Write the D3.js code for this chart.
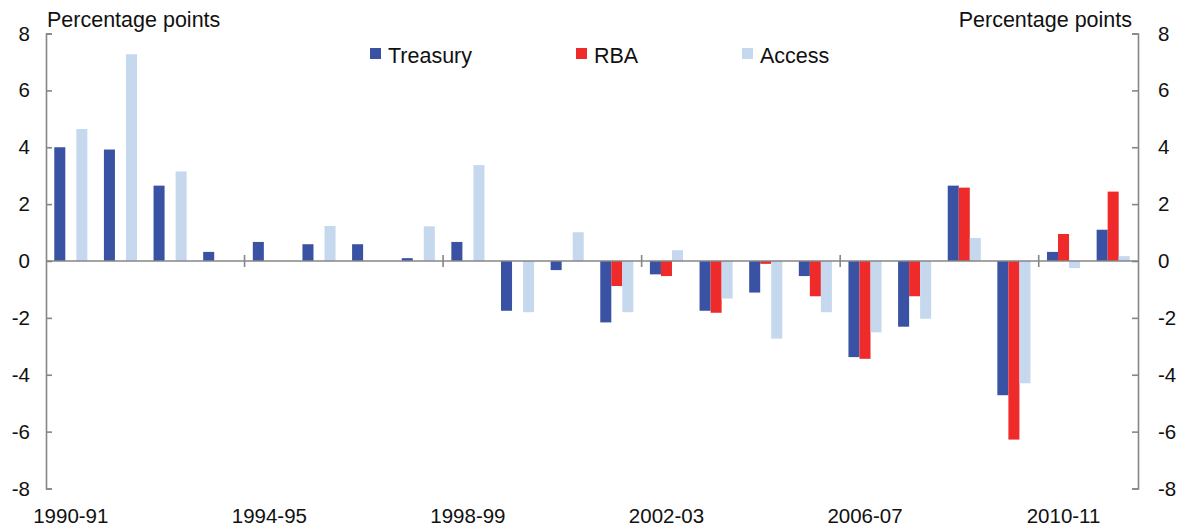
<!DOCTYPE html>
<html>
<head>
<meta charset="utf-8">
<script src="https://cdn.jsdelivr.net/npm/d3@7"></script>
<style>
  html, body { margin: 0; padding: 0; background: #fff; }
  svg { display: block; font-family: Arial, "Liberation Sans", sans-serif; }
</style>
</head>
<body>
<svg id="chart" width="1188" height="532"></svg>
<script>
const categories = ["1990-91","1991-92","1992-93","1993-94","1994-95","1995-96","1996-97","1997-98","1998-99","1999-00","2000-01","2001-02","2002-03","2003-04","2004-05","2005-06","2006-07","2007-08","2008-09","2009-10","2010-11","2011-12"];
const treasury = [4.0, 3.92, 2.65, 0.32, 0.67, 0.59, 0.59, 0.1, 0.67, -1.75, -0.32, -2.16, -0.47, -1.75, -1.11, -0.53, -3.38, -2.31, 2.65, -4.72, 0.32, 1.1];
const rba      = [null, null, null, null, null, null, null, null, null, null, null, -0.88, -0.53, -1.82, -0.1, -1.24, -3.44, -1.24, 2.58, -6.28, 0.95, 2.44];
const access   = [4.64, 7.27, 3.15, null, null, 1.23, null, 1.22, 3.37, -1.8, 1.01, -1.8, 0.38, -1.32, -2.73, -1.8, -2.51, -2.03, 0.81, -4.3, -0.25, 0.17];
const seriesNames = ["Treasury", "RBA", "Access"];
const yTicks = [-8, -6, -4, -2, 0, 2, 4, 6, 8];
const xLabels = ["1990-91","1994-95","1998-99","2002-03","2006-07","2010-11"];

const colors = { Treasury: "#3A52A3", RBA: "#EE2A2A", Access: "#C5D8EE" };
const series = [
  { name: "Treasury", values: treasury },
  { name: "RBA", values: rba },
  { name: "Access", values: access }
];

const svg = d3.select("#chart");
const mLeft = 46, mRight = 1138, mTop = 33.5, mBottom = 488.5;
const axisColor = "#868686";

const x = d3.scaleBand().domain(categories).range([mLeft, mRight]).paddingInner(0).paddingOuter(0);
const bw = x.bandwidth() / 4.5;
const xs = d3.scaleBand().domain(seriesNames).range([0.75 * bw, 3.75 * bw]);
const y = d3.scaleLinear().domain([-8, 8]).range([mBottom, mTop]);

// bars
const g = svg.append("g");
series.forEach(s => {
  g.selectAll(null)
    .data(s.values.map((v, i) => ({ v, c: categories[i] })).filter(d => d.v !== null))
    .enter().append("rect")
    .attr("x", d => x(d.c) + xs(s.name))
    .attr("width", xs.bandwidth())
    .attr("y", d => y(Math.max(0, d.v)))
    .attr("height", d => Math.abs(y(d.v) - y(0)))
    .attr("fill", colors[s.name]);
});

// left axis
const yl = d3.axisLeft(y).tickValues(yTicks).tickSize(-6).tickPadding(16).tickFormat(d => String(d));
const gl = svg.append("g").attr("transform", `translate(${mLeft},0)`).call(yl);
// right axis
const yr = d3.axisRight(y).tickValues(yTicks).tickSize(-6).tickPadding(20).tickFormat(d => String(d));
const gr = svg.append("g").attr("transform", `translate(${mRight},0)`).call(yr);
[gl, gr].forEach(ga => {
  ga.select(".domain").attr("stroke", axisColor).attr("stroke-width", 1.6);
  ga.selectAll(".tick line").attr("stroke", axisColor).attr("stroke-width", 1.6);
  ga.selectAll(".tick text").attr("font-size", 20.5).attr("fill", "#111")
    .attr("font-family", "Arial, 'Liberation Sans', sans-serif");
});
gl.selectAll(".tick text").attr("x", -16);

// x axis at zero
const xa = svg.append("g");
xa.append("line").attr("x1", mLeft).attr("x2", mRight).attr("y1", y(0)).attr("y2", y(0))
  .attr("stroke", axisColor).attr("stroke-width", 1.6);
const tickIdx = [4, 8, 12, 16, 20];
xa.selectAll(".xt").data(tickIdx).enter().append("line")
  .attr("x1", i => x(categories[i])).attr("x2", i => x(categories[i]))
  .attr("y1", y(0) - 6).attr("y2", y(0) + 6)
  .attr("stroke", axisColor).attr("stroke-width", 1.6);

svg.append("g").selectAll("text").data(xLabels).enter().append("text")
  .attr("x", d => x(d) + x.bandwidth() / 2)
  .attr("y", 523)
  .attr("text-anchor", "middle")
  .attr("font-size", 20.5).attr("fill", "#111")
  .text(d => d);

// axis titles
svg.append("text").attr("x", 47).attr("y", 27).attr("font-size", 21.5).attr("fill", "#111").text("Percentage points");
svg.append("text").attr("x", 1132).attr("y", 27).attr("text-anchor", "end").attr("font-size", 21.5).attr("fill", "#111").text("Percentage points");

// legend
const legendPos = [{ name: "Treasury", x: 370 }, { name: "RBA", x: 576 }, { name: "Access", x: 742 }];
const lg = svg.append("g");
legendPos.forEach(l => {
  lg.append("rect").attr("x", l.x).attr("y", 48).attr("width", 11).attr("height", 11).attr("fill", colors[l.name]);
  lg.append("text").attr("x", l.x + 18).attr("y", 63).attr("font-size", 21.5).attr("fill", "#111").text(l.name);
});
</script>
</body>
</html>
